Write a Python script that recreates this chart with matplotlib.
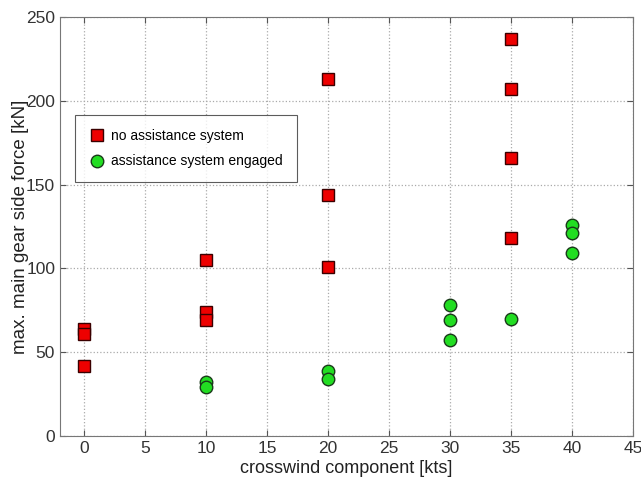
import matplotlib
matplotlib.use('Agg')
import matplotlib.pyplot as plt

plt.rcParams['font.family'] = ['Liberation Sans', 'DejaVu Sans']

# 无辅助系统
x_no = [0, 0, 0, 10, 10, 10, 20, 20, 20, 35, 35, 35, 35]
y_no = [64, 61, 42, 105, 74, 69, 213, 144, 101, 237, 207, 166, 118]
# 辅助系统启用
x_on = [10, 10, 20, 20, 30, 30, 30, 35, 40, 40, 40]
y_on = [32, 29, 39, 34, 78, 69, 57, 70, 126, 121, 109]

fig = plt.figure(figsize=(6.41, 4.78), dpi=100)
ax = fig.add_axes([60/641, 1-436/478, (633-60)/641, (436-17)/478])

ax.plot(x_no, y_no, 's', ms=8, mfc='#ee0000', mec='#3a0000', mew=1, label='no assistance system')
ax.plot(x_on, y_on, 'o', ms=9, mfc='#22dd22', mec='#1a3a1a', mew=1, label='assistance system engaged')

ax.set_xlim(-2, 45)
ax.set_ylim(0, 250)
ax.set_xticks(range(0, 46, 5))
ax.set_yticks(range(0, 251, 50))
ax.grid(True, linestyle=':', color='#aaaaaa', linewidth=0.9)
ax.tick_params(labelsize=12.5, direction='in', length=4, color='#555555', labelcolor='#333333')
ax.tick_params(top=True, right=True)
for s in ax.spines.values():
    s.set_color('#777777')
ax.set_xlabel('crosswind component [kts]', fontsize=13, color='#222222', labelpad=3)
ax.set_ylabel('max. main gear side force [kN]', fontsize=13.5, color='#222222', labelpad=-2)

leg = ax.legend(loc='upper left', bbox_to_anchor=(0.026, 0.765), borderaxespad=0, fontsize=10,
                frameon=True, fancybox=False, edgecolor='#333333', borderpad=1.0,
                handletextpad=0.4, labelspacing=0.8, handlelength=1.2)
leg.get_frame().set_linewidth(0.8)

fig.savefig('out.png', dpi=100)
